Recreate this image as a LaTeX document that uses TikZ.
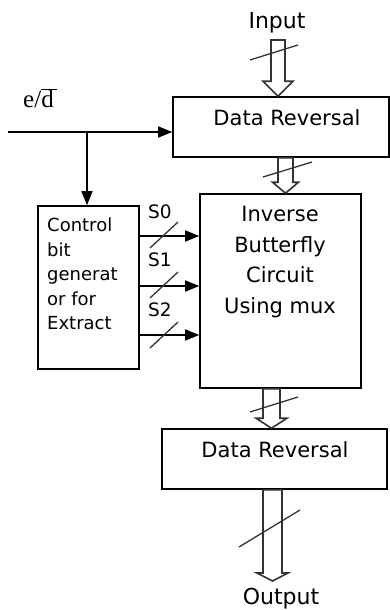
\documentclass[tikz,border=0pt]{standalone}
\usepackage{fontspec}
\setmainfont{DejaVu Sans}
\newfontfamily\seriffont{Liberation Serif}
\usetikzlibrary{arrows.meta,calc}
\newcommand{\hollowdown}[5]{%
  \draw[hollow] ($(#1)+(-#3,0)$) -- ($(#1)+(#3,0)$) -- ($(#2)+(#3,-#5)$) -- ($(#2)+(#4,-#5)$) -- (#2) -- ($(#2)+(-#4,-#5)$) -- ($(#2)+(-#3,-#5)$) -- cycle;}
\begin{document}
\begin{tikzpicture}[x=1pt,y=-1pt,
  box/.style={draw, line width=1.6pt, inner sep=0pt},
  sig/.style={line width=1.6pt, -{Triangle[length=14pt,width=11pt]}},
  hollow/.style={draw=black!80, line width=1.6pt, line join=miter},
  slash/.style={draw=black!80, line width=1.3pt},
  big/.style={font=\fontsize{21}{25}\selectfont, inner sep=0pt},
  small/.style={font=\fontsize{18.5}{22}\selectfont, inner sep=0pt}]
\useasboundingbox (0,0) rectangle (390,610);
% boxes
\node[box, minimum width=216pt, minimum height=60pt] (dr1) at (281,127) {};
\node[box, minimum width=161pt, minimum height=194pt] (ib) at (280.5,291) {};
\node[box, minimum width=101pt, minimum height=163pt] (cb) at (88.5,287.5) {};
\node[box, minimum width=225pt, minimum height=60pt] (dr2) at (274.5,459) {};
% texts
\node[big] (dr1t) at (287,118) {Data Reversal};
\node[big] (dr2t) at (275,450) {Data Reversal};
\node[big, align=center, font=\fontsize{21}{30.7}\selectfont] (ibt) at (280,262) {Inverse\\Butterfly\\Circuit\\Using mux};
\node[small, align=left, anchor=west, font=\fontsize{18}{24.5}\selectfont] (cbt) at (47,274) {Control\\bit\\generat\\or for\\Extract};
\node[big, font=\fontsize{22}{26}\selectfont] (inp) at (277,23) {Input};
\node[big, font=\fontsize{22}{26}\selectfont] (outp) at (281,599) {Output};
\node[inner sep=0pt, font=\seriffont\fontsize{25}{30}\selectfont] (ed) at (40,98) {e/$\overline{\hbox{d}\kern3pt}$};
% e/d signal
\coordinate (edin) at (8,132);
\coordinate (br) at (87,132);
\draw[sig] (edin) -- (edin -| dr1.west);
\draw[sig] (br) -- (br |- cb.north);
% S signals
\node[small] (s0) at (160,212) {S0};
\node[small] (s1) at (160,260) {S1};
\node[small] (s2) at (160,310) {S2};
\draw[sig] (cb.east |- 0,236) -- (ib.west |- 0,236);
\draw[sig] (cb.east |- 0,286) -- (ib.west |- 0,286);
\draw[sig] (cb.east |- 0,335) -- (ib.west |- 0,335);
\draw[slash] (150,248) -- (178,222);
\draw[slash] (150,298) -- (178,272);
\draw[slash] (150,348) -- (178,322);
% hollow bus arrows
\coordinate (a1s) at (278,40);
\coordinate (a1e) at (a1s |- dr1.north);
\hollowdown{a1s}{a1e}{7}{15}{15}
\draw[slash] (250,60) -- (298,45);
\coordinate (a2s) at (dr1.south -| 285.5,0);
\coordinate (a2e) at (a2s |- ib.north);
\hollowdown{a2s}{a2e}{7.5}{13}{11}
\draw[slash] (263,177) -- (312,162);
\coordinate (a3s) at (ib.south -| 271.5,0);
\coordinate (a3e) at (a3s |- dr2.north);
\hollowdown{a3s}{a3e}{8.5}{15.5}{10}
\draw[slash] (250,412) -- (298,397);
\coordinate (a4s) at (dr2.south -| 272.5,0);
\coordinate (a4e) at (272.5,581);
\hollowdown{a4s}{a4e}{9.5}{15.5}{8}
\draw[slash] (239,547) -- (300,510);
\end{tikzpicture}
\end{document}
